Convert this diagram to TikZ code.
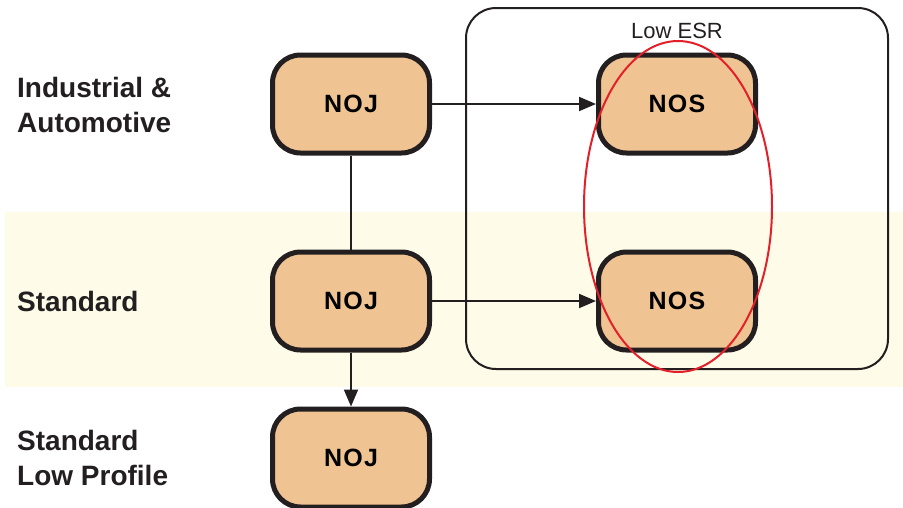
\documentclass[tikz,border=0pt]{standalone}
\usepackage{fontspec}
\setmainfont{Liberation Sans}
\usetikzlibrary{arrows.meta}

\definecolor{partfill}{HTML}{F0C392}
\definecolor{partline}{HTML}{231F20}
\definecolor{bandfill}{HTML}{FEFBE8}
\definecolor{ringred}{HTML}{E3202A}

\begin{document}
\begin{tikzpicture}[x=1pt,y=-1pt,
    part/.style={draw=partline, fill=partfill, line width=5pt, rounded corners=28pt,
      minimum width=157pt, minimum height=98pt, inner sep=0pt,
      font=\bfseries\fontsize{25}{30}\selectfont\addfontfeatures{LetterSpace=5}},
    rowlabel/.style={anchor=base west, align=left, inner sep=0pt, text=partline,
      font=\bfseries\fontsize{28}{35}\selectfont},
    link/.style={draw=partline, line width=2pt},
    linkto/.style={link, -{Triangle[length=17pt,width=14pt]}}]
  \useasboundingbox (0,0) rectangle (903,507);

  % standard row band and low ESR frame
  \fill [bandfill] (5,212) rectangle (903,387);
  \draw [partline, line width=2pt, rounded corners=30pt] (466,8) rectangle (888,369);
  \node (esr) [font=\fontsize{22}{26}\selectfont, text=partline, anchor=base] at (677,38) { Low ESR };

  % row labels (base = last line)
  \node (indlabel) [rowlabel] at (17,132) { Industrial \&\\Automotive };
  \node (stdlabel) [rowlabel] at (17,311) { Standard };
  \node (lowlabel) [rowlabel] at (17,485) { Standard\\Low Profile };

  % parts
  \node (nojtop) [part] at (351,104) { NOJ };
  \node (nojmid) [part] at (351,301) { NOJ };
  \node (nojlow) [part] at (351,458) { NOJ };
  \node (nostop) [part] at (677,104) { NOS };
  \node (nosmid) [part] at (677,301) { NOS };

  \draw [link] (nojtop) -- (nojmid);
  \draw [linkto] (nojmid) -- (nojlow);
  \draw [linkto] (nojtop) -- (nostop);
  \draw [linkto] (nojmid) -- (nosmid);

  % highlight
  \draw [ringred, line width=2pt] (678,206.5) ellipse [x radius=94, y radius=165.5];
\end{tikzpicture}
\end{document}
